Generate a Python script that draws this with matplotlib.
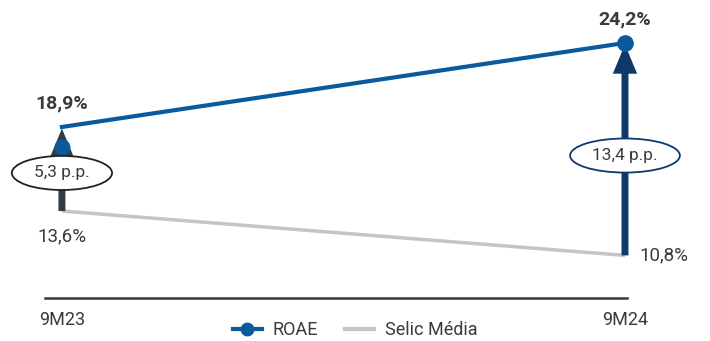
import matplotlib.pyplot as plt
from matplotlib.patches import Ellipse
from matplotlib.transforms import offset_copy

plt.rcParams['font.family'] = ['Roboto', 'DejaVu Sans']

periodos = ["9M23", "9M24"]
roae = [18.9, 24.2]
selic = [13.6, 10.8]
spread_txt = ["5,3 p.p.", "13,4 p.p."]

azul = "#0b5a9c"
navy = "#0d3a6b"
cinza_esc = "#333a44"
cinza = "#c4c4c4"
txt = "#3a3a3a"

fig = plt.figure(figsize=(7.1, 3.41), dpi=100)
ax = fig.add_axes([0, 0, 1, 1])
ax.set_xlim(-0.110, 1.151)
ax.set_ylim(5.40, 26.91)
ax.axis("off")

x = [0, 1]

# linhas
ax.plot(x, selic, color=cinza, lw=2.5, solid_capstyle="butt", zorder=2)
ax.plot(x, roae, color=azul, lw=3, zorder=3)

# setas de spread
cores_seta = [cinza_esc, navy]
for i in range(2):
    an = ax.annotate("", xy=(x[i], roae[i] - 0.1), xytext=(x[i], selic[i]),
                     arrowprops=dict(arrowstyle="-|>,head_width=0.5,head_length=1.2",
                                     color=cores_seta[i], lw=5, shrinkA=0, shrinkB=0),
                     zorder=4)
    an.arrow_patch.set_capstyle("butt")
    an.arrow_patch.set_joinstyle("miter")

# marcadores ROAE
off = offset_copy(ax.transData, fig=fig, x=0, y=-20, units="dots")
ax.plot([x[0]], [roae[0]], "o", color=azul, ms=10.5, transform=off, zorder=5)
ax.plot([x[1]], [roae[1]], "o", color=azul, ms=11, zorder=5)

# elipses com spread
ell_y = [16.0, 17.1]
ell_w = [0.178, 0.195]
ell_ec = ["#222222", navy]
for i in range(2):
    ax.add_patch(Ellipse((x[i], ell_y[i]), ell_w[i], 2.15, facecolor="white",
                         edgecolor=ell_ec[i], lw=1.3, zorder=6))
    ax.text(x[i], ell_y[i], spread_txt[i], ha="center", va="center",
            fontsize=12.5, color=txt, zorder=7)

# rótulos
fmt = lambda v: f"{v:.1f}%".replace(".", ",")
ax.text(x[0], roae[0] + 1.5, fmt(roae[0]), ha="center", va="center",
        fontsize=14, fontweight="bold", color=txt)
ax.text(x[1], roae[1] + 1.5, fmt(roae[1]), ha="center", va="center",
        fontsize=14, fontweight="bold", color=txt)
ax.text(x[0], selic[0] - 1.6, fmt(selic[0]), ha="center", va="center",
        fontsize=13.5, color=txt)
ax.text(x[1] + 0.025, selic[1], fmt(selic[1]), ha="left", va="center",
        fontsize=13.5, color=txt)

# eixo x
base = 8.11
ax.plot([-0.03, 1.003], [base, base], color=cinza_esc, lw=1.8, zorder=1)
for i in range(2):
    ax.text(x[i], base - 1.4, periodos[i], ha="center", va="center",
            fontsize=13, color=txt)

# legenda
ax.plot([], [], "-o", color=azul, lw=3, ms=9, label="ROAE")
ax.plot([], [], "-", color=cinza, lw=3, label="Selic Média")
leg = ax.legend(loc="center", bbox_to_anchor=(0.5, 11 / 341), ncol=2,
                frameon=False, fontsize=13, handlelength=1.6,
                columnspacing=1.5, handletextpad=0.6, borderpad=0)
for t in leg.get_texts():
    t.set_color(txt)

fig.savefig("out.png", dpi=100)
